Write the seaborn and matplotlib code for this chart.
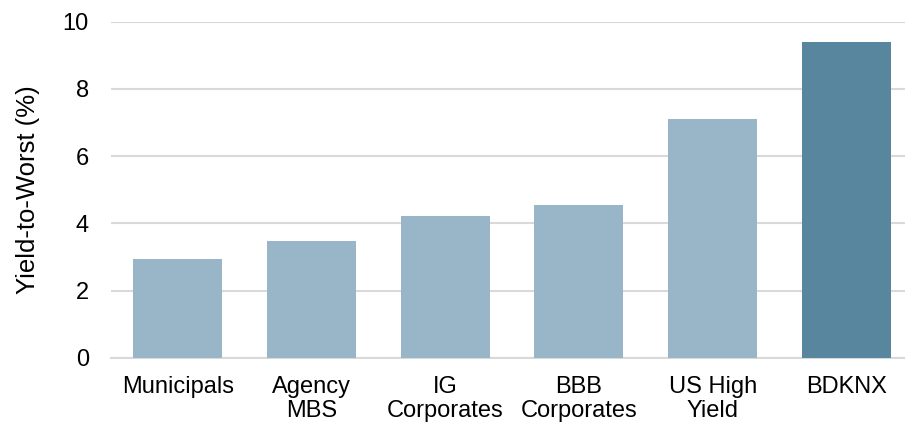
import matplotlib
matplotlib.use("Agg")
import matplotlib.pyplot as plt
import seaborn as sns
import pandas as pd

categories = ["Municipals", "Agency\nMBS", "IG\nCorporates", "BBB\nCorporates", "US High\nYield", "BDKNX"]
values = [2.93, 3.47, 4.23, 4.54, 7.09, 9.40]
colors = ["#98b6c7", "#98b6c7", "#98b6c7", "#98b6c7", "#98b6c7", "#58869e"]
yticks = [0, 2, 4, 6, 8, 10]

sns.set_style("white")
plt.rcParams["font.family"] = ["Liberation Sans", "DejaVu Sans"]

df = pd.DataFrame({"cat": categories, "val": values})

fig = plt.figure(figsize=(9.05, 4.24), dpi=100)
ax = fig.add_axes([111 / 905, 1 - 358 / 424, (905 - 111) / 905, (358 - 21.5) / 424])

sns.barplot(data=df, x="cat", y="val", hue="cat", palette=colors, legend=False,
            width=0.665, saturation=1, ax=ax, zorder=3, edgecolor="none")

ax.set_xlim(-0.5, -0.5 + 794 / 133.7)
ax.set_ylim(0, 10)
ax.set_yticks(yticks)
ax.set_yticklabels([str(t) for t in yticks])
ax.grid(axis="y", color="#d9d9d9", linewidth=1.5, zorder=0)
ax.set_axisbelow(True)
for s in ["top", "right", "left"]:
    ax.spines[s].set_visible(False)
ax.spines["bottom"].set_color("#d9d9d9")
ax.spines["bottom"].set_linewidth(1.5)
ax.tick_params(axis="both", length=0, labelsize=17, colors="#000000")
ax.tick_params(axis="x", pad=13)
ax.tick_params(axis="y", pad=16)
for lbl in ax.get_xticklabels():
    lbl.set_linespacing(1.12)
ax.set_xlabel("")
ax.set_ylabel("Yield-to-Worst (%)", fontsize=18.5, labelpad=16, color="#000000")

fig.savefig("out.png", dpi=100)
